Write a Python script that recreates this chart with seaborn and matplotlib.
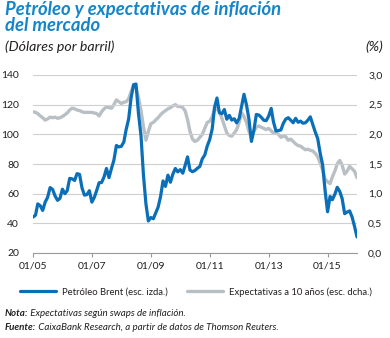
import numpy as np
import pandas as pd
import matplotlib
matplotlib.use("Agg")
import matplotlib.pyplot as plt
import matplotlib.dates as mdates
from matplotlib.ticker import FuncFormatter
import seaborn as sns

# Monthly series, Jan 2005 - Jan 2016
brent = [
    44.2, 45.5, 53.1, 51.9, 48.7, 54.3, 57.5, 64.1, 62.9, 58.5, 55.5, 56.8,
    63.0, 60.0, 62.0, 70.3, 70.0, 68.9, 73.5, 73.0, 63.8, 59.0, 59.4, 62.0,
    54.3, 57.6, 62.1, 67.4, 67.5, 71.3, 77.0, 70.8, 77.0, 82.6, 92.5, 91.5,
    91.9, 94.8, 103.3, 110.4, 124.6, 133.5, 133.9, 113.9, 99.1, 72.8, 53.2, 41.6,
    43.9, 43.1, 46.8, 50.9, 57.9, 68.6, 64.9, 72.5, 67.7, 73.2, 77.0, 74.7,
    76.2, 73.8, 78.8, 84.8, 75.9, 74.8, 75.6, 77.1, 78.4, 83.5, 86.1, 92.1,
    96.5, 103.7, 118.0, 124.5, 114.5, 113.9, 116.7, 110.2, 112.8, 109.6, 110.5, 107.7,
    110.7, 119.3, 127.0, 119.8, 110.3, 95.2, 102.6, 113.4, 113.0, 111.5, 109.5, 109.2,
    112.3, 117.5, 108.5, 102.3, 102.6, 102.9, 107.4, 110.3, 111.2, 109.5, 107.8, 110.8,
    108.1, 108.9, 107.5, 107.8, 109.5, 111.8, 106.8, 101.6, 97.1, 87.4, 79.4, 62.3,
    47.8, 58.1, 55.9, 59.5, 64.3, 61.5, 56.6, 46.5, 47.6, 48.4, 44.3, 38.0,
    30.8,
]
expectations = [
    2.38, 2.37, 2.35, 2.31, 2.28, 2.24, 2.26, 2.29, 2.28, 2.29, 2.27, 2.28,
    2.30, 2.33, 2.36, 2.41, 2.44, 2.43, 2.41, 2.40, 2.38, 2.37, 2.37, 2.37,
    2.37, 2.36, 2.35, 2.31, 2.38, 2.43, 2.46, 2.45, 2.44, 2.50, 2.58, 2.55,
    2.52, 2.54, 2.55, 2.60, 2.72, 2.82, 2.78, 2.62, 2.40, 2.13, 1.90, 2.05,
    2.18, 2.20, 2.24, 2.28, 2.33, 2.37, 2.40, 2.43, 2.45, 2.48, 2.50, 2.47,
    2.47, 2.45, 2.40, 2.25, 2.05, 1.92, 1.88, 1.90, 1.95, 2.00, 2.10, 2.20,
    2.22, 2.30, 2.40, 2.44, 2.38, 2.27, 2.15, 2.02, 1.98, 1.97, 2.02, 2.08,
    2.20, 2.36, 2.30, 2.20, 2.05, 1.94, 2.05, 2.12, 2.14, 2.12, 2.10, 2.08,
    2.10, 2.06, 2.02, 2.04, 2.00, 1.95, 1.97, 1.96, 1.90, 1.92, 1.88, 1.84,
    1.81, 1.80, 1.77, 1.74, 1.75, 1.73, 1.72, 1.68, 1.62, 1.52, 1.40, 1.25,
    1.20, 1.17, 1.28, 1.38, 1.50, 1.56, 1.48, 1.33, 1.38, 1.46, 1.42, 1.38,
    1.27,
]
dates = pd.date_range("2005-01-01", periods=len(brent), freq="MS")
x_ticks = pd.to_datetime(["2005-01-01", "2007-01-01", "2009-01-01",
                          "2011-01-01", "2013-01-01", "2015-01-01"])
left_ticks = [20, 40, 60, 80, 100, 120, 140]
right_ticks = [0.0, 0.5, 1.0, 1.5, 2.0, 2.5, 3.0]

title = "Petróleo y expectativas de inflación\ndel mercado"
left_unit = "(Dólares por barril)"
right_unit = "(%)"
label_brent = "Petróleo Brent (esc. izda.)"
label_exp = "Expectativas a 10 años (esc. dcha.)"

df = pd.DataFrame({"fecha": dates, "brent": brent, "expectativas": expectations})

BLUE = "#0b6fb8"
GREY = "#b9c0c5"
TITLE_BLUE = "#1585c8"
TEXT = "#231f20"

sns.set_theme(style="white")
plt.rcParams["font.family"] = ["Lato", "DejaVu Sans"]

fig = plt.figure(figsize=(3.9, 3.38), dpi=100)
ax = fig.add_axes([33 / 390, 1 - 253 / 338, 324 / 390, 178 / 338])
ax2 = ax.twinx()

sns.lineplot(data=df, x="fecha", y="expectativas", ax=ax2, color=GREY,
             linewidth=2.4, label=label_exp, legend=False)
sns.lineplot(data=df, x="fecha", y="brent", ax=ax, color=BLUE,
             linewidth=2.3, label=label_brent, legend=False)
ax.set_zorder(ax2.get_zorder() + 1)
ax.patch.set_visible(False)

ax.set_xlim(pd.Timestamp("2005-01-01"), pd.Timestamp("2016-01-01"))
ax.set_ylim(20, 140)
ax2.set_ylim(0, 3)
ax.set_yticks(left_ticks)
ax2.set_yticks(right_ticks)
ax2.yaxis.set_major_formatter(FuncFormatter(lambda v, p: f"{v:.1f}".replace(".", ",")))
ax.set_xticks(x_ticks)
ax.xaxis.set_major_formatter(mdates.DateFormatter("%m/%y"))

ax.set_xlabel("")
ax.set_ylabel("")
ax2.set_ylabel("")
ax.grid(axis="y", color="#cfcfcf", linewidth=0.8)
ax.grid(axis="x", visible=False)
ax2.grid(False)
for a in (ax, ax2):
    for s in a.spines.values():
        s.set_visible(False)
ax.spines["bottom"].set_visible(True)
ax.spines["bottom"].set_color("#9a9a9a")
ax.spines["bottom"].set_linewidth(0.8)

ax.tick_params(axis="y", length=0, pad=10, labelsize=7.5, labelcolor=TEXT)
ax2.tick_params(axis="y", length=0, pad=8, labelsize=7.5, labelcolor=TEXT)
ax.tick_params(axis="x", length=3, width=0.8, color="#9a9a9a", pad=3,
               labelsize=7.5, labelcolor=TEXT, bottom=True)

fig.text(5 / 390, 1 - 1 / 338, title, ha="left", va="top", fontsize=13.3,
         fontweight="bold", fontstyle="italic", color=TITLE_BLUE, linespacing=0.92)
fig.text(5 / 390, 1 - 47 / 338, left_unit, ha="left", va="center", fontsize=10.2,
         fontstyle="italic", color=TEXT)
fig.text(383 / 390, 1 - 47 / 338, right_unit, ha="right", va="center", fontsize=10.2,
         fontstyle="italic", color=TEXT)

handles = [ax.get_lines()[0], ax2.get_lines()[0]]
fig.legend(handles, [label_brent, label_exp], loc="center",
           bbox_to_anchor=(196 / 390, 1 - 292 / 338), ncol=2, frameon=False,
           fontsize=6.8, handlelength=3.8, handletextpad=0.65, columnspacing=2.0,
           labelcolor=TEXT)

renderer = fig.canvas.get_renderer()
notes = [("Nota:", " Expectativas según swaps de inflación.", 314),
         ("Fuente:", " CaixaBank Research, a partir de datos de Thomson Reuters.", 327)]
for head, body, ypx in notes:
    t = fig.text(5 / 390, 1 - ypx / 338, head, ha="left", va="center", fontsize=7,
                 fontweight="bold", fontstyle="italic", color=TEXT)
    bb = t.get_window_extent(renderer=renderer)
    fig.text(bb.x1 / fig.bbox.width, 1 - ypx / 338, body, ha="left", va="center",
             fontsize=7, fontstyle="italic", color=TEXT)

fig.savefig("out.png", dpi=100)
